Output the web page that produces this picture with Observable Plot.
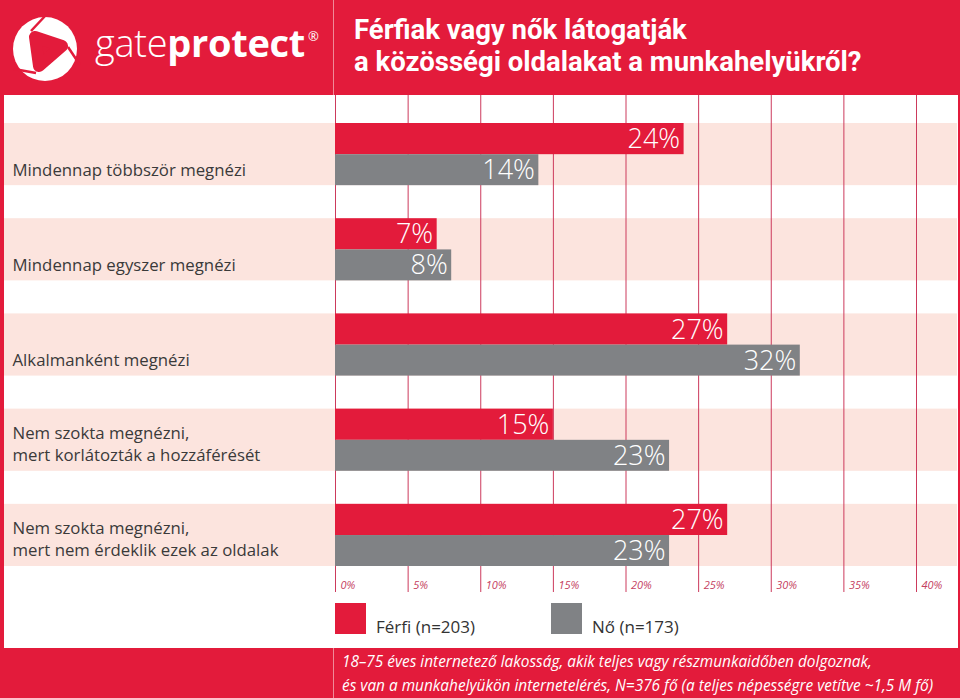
<!DOCTYPE html>
<html>
<head>
<meta charset="utf-8">
<script src="https://cdn.jsdelivr.net/npm/d3@7"></script>
<script src="https://cdn.jsdelivr.net/npm/@observablehq/plot@0.6"></script>
<style>
  body { margin: 0; background: #fff; }
  #page { position: relative; width: 960px; height: 698px; overflow: hidden; background: #fff; font-family: "Open Sans", "Noto Sans", sans-serif; }
  .abs { position: absolute; }
  #header { left: 0; top: 0; width: 960px; height: 95px; background: #e31b3b; }
  #sepTop { left: 333px; top: 0; width: 1px; height: 95px; background: #f08a98; }
  #logoText { left: 95px; top: 16px; color: #fff; font-size: 38px; line-height: 52px; white-space: nowrap; letter-spacing: -0.3px; }
  #logoText .l { font-weight: 300; }
  #logoText .b { font-weight: 700; }
  #logoText sup { font-size: 13px; font-weight: 400; vertical-align: top; position: relative; top: -6px; left: 3px; }
  #title { left: 354px; top: 14px; color: #fff; font-family: "Roboto", "Open Sans", sans-serif; font-weight: 700; font-size: 27.5px; line-height: 32px; white-space: nowrap; }
  #chart { left: 0; top: 95px; width: 960px; height: 553px; }
  #leftBorder { left: 0; top: 95px; width: 4px; height: 553px; background: #e31b3b; }
  #rightBorder { left: 958px; top: 95px; width: 2px; height: 553px; background: #e31b3b; }
  #legend { left: 0; top: 0; }
  .sw { position: absolute; width: 31px; height: 31px; }
  .lt { position: absolute; font-size: 17px; color: #333; white-space: nowrap; line-height: 22px; }
  #footer { left: 0; top: 648px; width: 960px; height: 50px; background: #e31b3b; }
  #sepBot { left: 333px; top: 648px; width: 1px; height: 50px; background: #f08a98; }
  #note { left: 342px; top: 650px; color: #fff; font-style: italic; font-size: 15.4px; line-height: 24px; white-space: nowrap; }
</style>
</head>
<body>
<div id="page">
  <div id="chart" class="abs"></div>
  <div id="header" class="abs"></div>
  <div id="sepTop" class="abs"></div>
  <svg class="abs" style="left:12px;top:14px" width="70" height="70" viewBox="0 0 70 70">
    <circle cx="33" cy="35" r="32" fill="#fff"/>
    <path d="M23 23 L50 32 L27 52 Z" fill="#e31b3b" stroke="#e31b3b" stroke-width="12" stroke-linejoin="round"/>
    <line x1="19" y1="17" x2="34" y2="1" stroke="#e31b3b" stroke-width="2.5"/>
    <line x1="56" y1="33" x2="68" y2="51" stroke="#e31b3b" stroke-width="2.5"/>
    <line x1="24" y1="59" x2="2" y2="55" stroke="#e31b3b" stroke-width="2.5"/>
  </svg>
  <div id="logoText" class="abs"><span class="l">gate</span><span class="b">protect</span><sup>®</sup></div>
  <div id="title" class="abs"></div>
  <div id="leftBorder" class="abs"></div>
  <div id="rightBorder" class="abs"></div>
  <div id="legend" class="abs"></div>
  <div id="footer" class="abs"></div>
  <div id="sepBot" class="abs"></div>
  <div id="note" class="abs"></div>
</div>
<script>
// ---- data ----
const titleLines = ["Férfiak vagy nők látogatják", "a közösségi oldalakat a munkahelyükről?"];
const categories = [
  "Mindennap többször megnézi",
  "Mindennap egyszer megnézi",
  "Alkalmanként megnézi",
  "Nem szokta megnézni,\nmert korlátozták a hozzáférését",
  "Nem szokta megnézni,\nmert nem érdeklik ezek az oldalak"
];
const menValues = [24, 7, 27, 15, 27];
const womenValues = [14, 8, 32, 23, 23];
const xTicks = [0, 5, 10, 15, 20, 25, 30, 35, 40];
const seriesNames = ["Férfi (n=203)", "Nő (n=173)"];
const noteLines = [
  "18–75 éves internetező lakosság, akik teljes vagy részmunkaidőben dolgoznak,",
  "és van a munkahelyükön internetelérés, N=376 fő (a teljes népességre vetítve ~1,5 M fő)"
];

// ---- styles ----
const RED = "#e31b3b", GRAY = "#808285", PINK = "#fce4de", GRID = "#cc3a5c", TICK = "#c5415f";
const seriesColors = [RED, GRAY];

const rows = categories.map((c, i) => ({category: c, men: menValues[i], women: womenValues[i]}));

document.getElementById("title").innerHTML = titleLines.join("<br>");
document.getElementById("note").innerHTML = noteLines.join("<br>");

const legend = document.getElementById("legend");
const legendX = [335, 551];
seriesNames.forEach((name, i) => {
  const sw = document.createElement("div");
  sw.className = "sw";
  sw.style.left = legendX[i] + "px";
  sw.style.top = "603px";
  sw.style.background = seriesColors[i];
  legend.appendChild(sw);
  const t = document.createElement("div");
  t.className = "lt";
  t.style.left = (legendX[i] + 41) + "px";
  t.style.top = "616px";
  t.textContent = name;
  legend.appendChild(t);
});

const chart = Plot.plot({
  width: 960,
  height: 553,
  marginLeft: 335,
  marginRight: 44,
  marginTop: 0,
  marginBottom: 56,
  style: {fontFamily: "'Open Sans', 'Noto Sans', sans-serif", background: "transparent"},
  x: {domain: [0, 40], axis: null},
  y: {type: "band", domain: categories, range: [28, 471], paddingInner: 0.347, paddingOuter: 0, round: false, axis: null},
  marks: [
    Plot.cell(rows, {y: "category", fill: PINK, insetLeft: -331, insetRight: -41}),
    Plot.ruleX(xTicks, {stroke: GRID, strokeWidth: 1}),
    Plot.barX(rows, {x: "men", y: "category", fill: RED, insetBottom: 31}),
    Plot.barX(rows, {x: "women", y: "category", fill: GRAY, insetTop: 31.2}),
    Plot.text(rows, {x: "men", y: "category", text: d => d.men + "%", textAnchor: "end", dx: -4, dy: -15, fill: "#fff", fontSize: 27, fontWeight: 300}),
    Plot.text(rows, {x: "women", y: "category", text: d => d.women + "%", textAnchor: "end", dx: -4, dy: 16, fill: "#fff", fontSize: 27, fontWeight: 300}),
    Plot.text(rows, {y: "category", text: "category", frameAnchor: "left", textAnchor: "start", lineAnchor: "bottom", dx: -323, dy: 21, fontSize: 16.8, lineHeight: 1.31, fill: "#3a3a3a"}),
    Plot.text(xTicks, {x: d => d, text: d => d + "%", frameAnchor: "bottom", textAnchor: "start", dx: 5, dy: -4, fill: TICK, fontSize: 11, fontStyle: "italic"})
  ]
});
document.getElementById("chart").appendChild(chart);
</script>
</body>
</html>
